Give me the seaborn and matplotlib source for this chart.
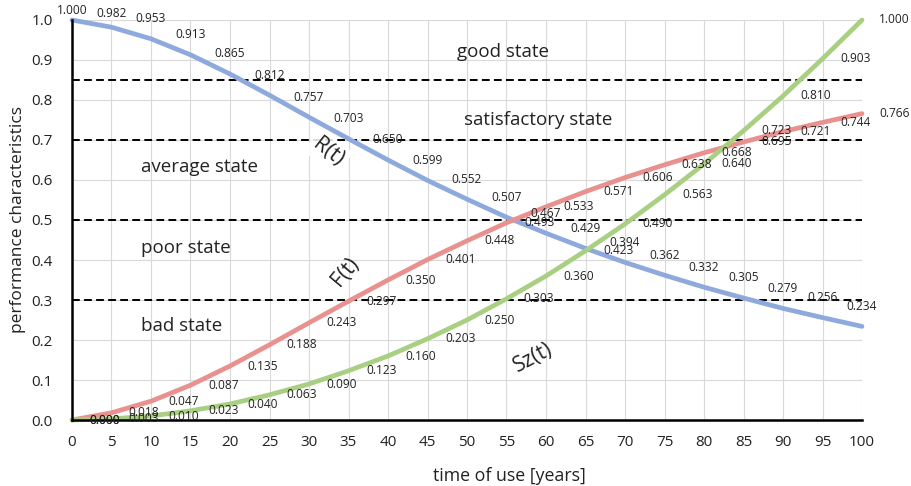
import matplotlib
matplotlib.use("Agg")
import matplotlib.pyplot as plt
import seaborn as sns
import pandas as pd
import numpy as np

# ---- data ----
years = [0, 5, 10, 15, 20, 25, 30, 35, 40, 45, 50, 55, 60, 65, 70, 75, 80, 85, 90, 95, 100]
R_vals = [1.000, 0.982, 0.953, 0.913, 0.865, 0.812, 0.757, 0.703, 0.650, 0.599, 0.552,
          0.507, 0.467, 0.429, 0.394, 0.362, 0.332, 0.305, 0.279, 0.256, 0.234]
F_vals = [0.000, 0.018, 0.047, 0.087, 0.135, 0.188, 0.243, 0.297, 0.350, 0.401, 0.448,
          0.493, 0.533, 0.571, 0.606, 0.638, 0.668, 0.695, 0.721, 0.744, 0.766]
Sz_vals = [0.000, 0.003, 0.010, 0.023, 0.040, 0.063, 0.090, 0.123, 0.160, 0.203, 0.250,
           0.303, 0.360, 0.423, 0.490, 0.563, 0.640, 0.723, 0.810, 0.903, 1.000]
thresholds = [0.85, 0.7, 0.5, 0.3]
state_names = ["good state", "satisfactory state", "average state", "poor state", "bad state"]
state_pos = [(54.5, 0.92), (59.0, 0.75), (16.1, 0.633), (14.4, 0.43), (13.9, 0.235)]
x_ticks = list(range(0, 101, 5))
y_ticks = [round(0.1 * i, 1) for i in range(11)]

sns.set_theme(style="whitegrid")
plt.rcParams['font.family'] = ['Open Sans', 'DejaVu Sans']
FAM = ['Open Sans', 'DejaVu Sans']

df = pd.DataFrame({"t": years * 3,
                   "v": R_vals + F_vals + Sz_vals,
                   "s": ["R"] * 21 + ["F"] * 21 + ["Sz"] * 21})
colors = {"R": "#8EA9DB", "F": "#E8918F", "Sz": "#A9CF82"}

fig = plt.figure(figsize=(9.12, 4.86), dpi=100)
ax = fig.add_axes([72 / 912, 1 - 420 / 486, 790 / 912, 400 / 486])

for yv in thresholds:
    ax.axhline(yv, color="black", lw=1.4, ls=(0, (4, 2.2)), zorder=2)

sns.lineplot(data=df, x="t", y="v", hue="s", palette=colors, lw=3.4, ax=ax,
             legend=False, zorder=3)
for ln in ax.lines:
    ln.set_clip_on(False)

lab_kw = dict(fontsize=8.6, color="#222222", zorder=5, family=FAM)
for i, (t, v) in enumerate(zip(years, R_vals)):
    dy = 7 if i == 0 else (10 if i == 1 else 14.5)
    ax.annotate(f"{v:.3f}", (t, v), xytext=(0, dy), textcoords="offset points",
                ha="center", va="center", annotation_clip=False, **lab_kw)
for t, v in zip(years, F_vals):
    ax.annotate(f"{v:.3f}", (t, v), xytext=(23.5, 0), textcoords="offset points",
                ha="center", va="center", annotation_clip=False, **lab_kw)
for t, v in zip(years, Sz_vals):
    ax.annotate(f"{v:.3f}", (t, v), xytext=(23.5, 0), textcoords="offset points",
                ha="center", va="center", annotation_clip=False, **lab_kw)

for name, (px, py) in zip(state_names, state_pos):
    ax.text(px, py, name, fontsize=13.5, ha="center", va="center", color="#222222",
            zorder=4, family=FAM)

ax.text(32.4, 0.67, "R(t)", fontsize=15, rotation=-38, ha="center", va="center",
        color="#222222", zorder=6, family=FAM,
        bbox=dict(boxstyle="round,pad=0.2", fc="white", ec="none", alpha=0.85))
ax.text(34.6, 0.37, "F(t)", fontsize=15, rotation=50, ha="center", va="center",
        color="#222222", zorder=6, family=FAM)
ax.text(58.4, 0.155, "Sz(t)", fontsize=15, rotation=28, ha="center", va="center",
        color="#222222", zorder=6, family=FAM)

ax.set_xlim(0, 100)
ax.set_ylim(0, 1.0)
ax.set_xticks(x_ticks)
ax.set_yticks(y_ticks)
ax.set_yticklabels([f"{v:.1f}" for v in y_ticks])
ax.grid(True, color="#D9D9D9", lw=0.8)
ax.set_axisbelow(True)
for s in ["top", "right"]:
    ax.spines[s].set_visible(False)
for s in ["left", "bottom"]:
    ax.spines[s].set_color("black")
    ax.spines[s].set_linewidth(1.8)
    ax.spines[s].set_zorder(4)
ax.tick_params(axis="both", which="both", direction="out", length=5, width=1,
               color="black", labelsize=11, labelcolor="#222222")
ax.tick_params(axis="y", pad=9)
ax.tick_params(axis="x", pad=6)
ax.set_xlabel("time of use [years]", fontsize=12.8, color="#222222", family=FAM)
ax.set_ylabel("performance characteristics", fontsize=12.5, color="#222222", family=FAM)
ax.xaxis.set_label_coords((509 - 72) / 790, -47 / 400)
ax.yaxis.set_label_coords(-46 / 790, 0.5)
for lbl in ax.get_xticklabels() + ax.get_yticklabels():
    lbl.set_family(FAM)
ax.set_facecolor("white")
fig.patch.set_facecolor("white")

fig.savefig("out.png", dpi=100, facecolor="white")
